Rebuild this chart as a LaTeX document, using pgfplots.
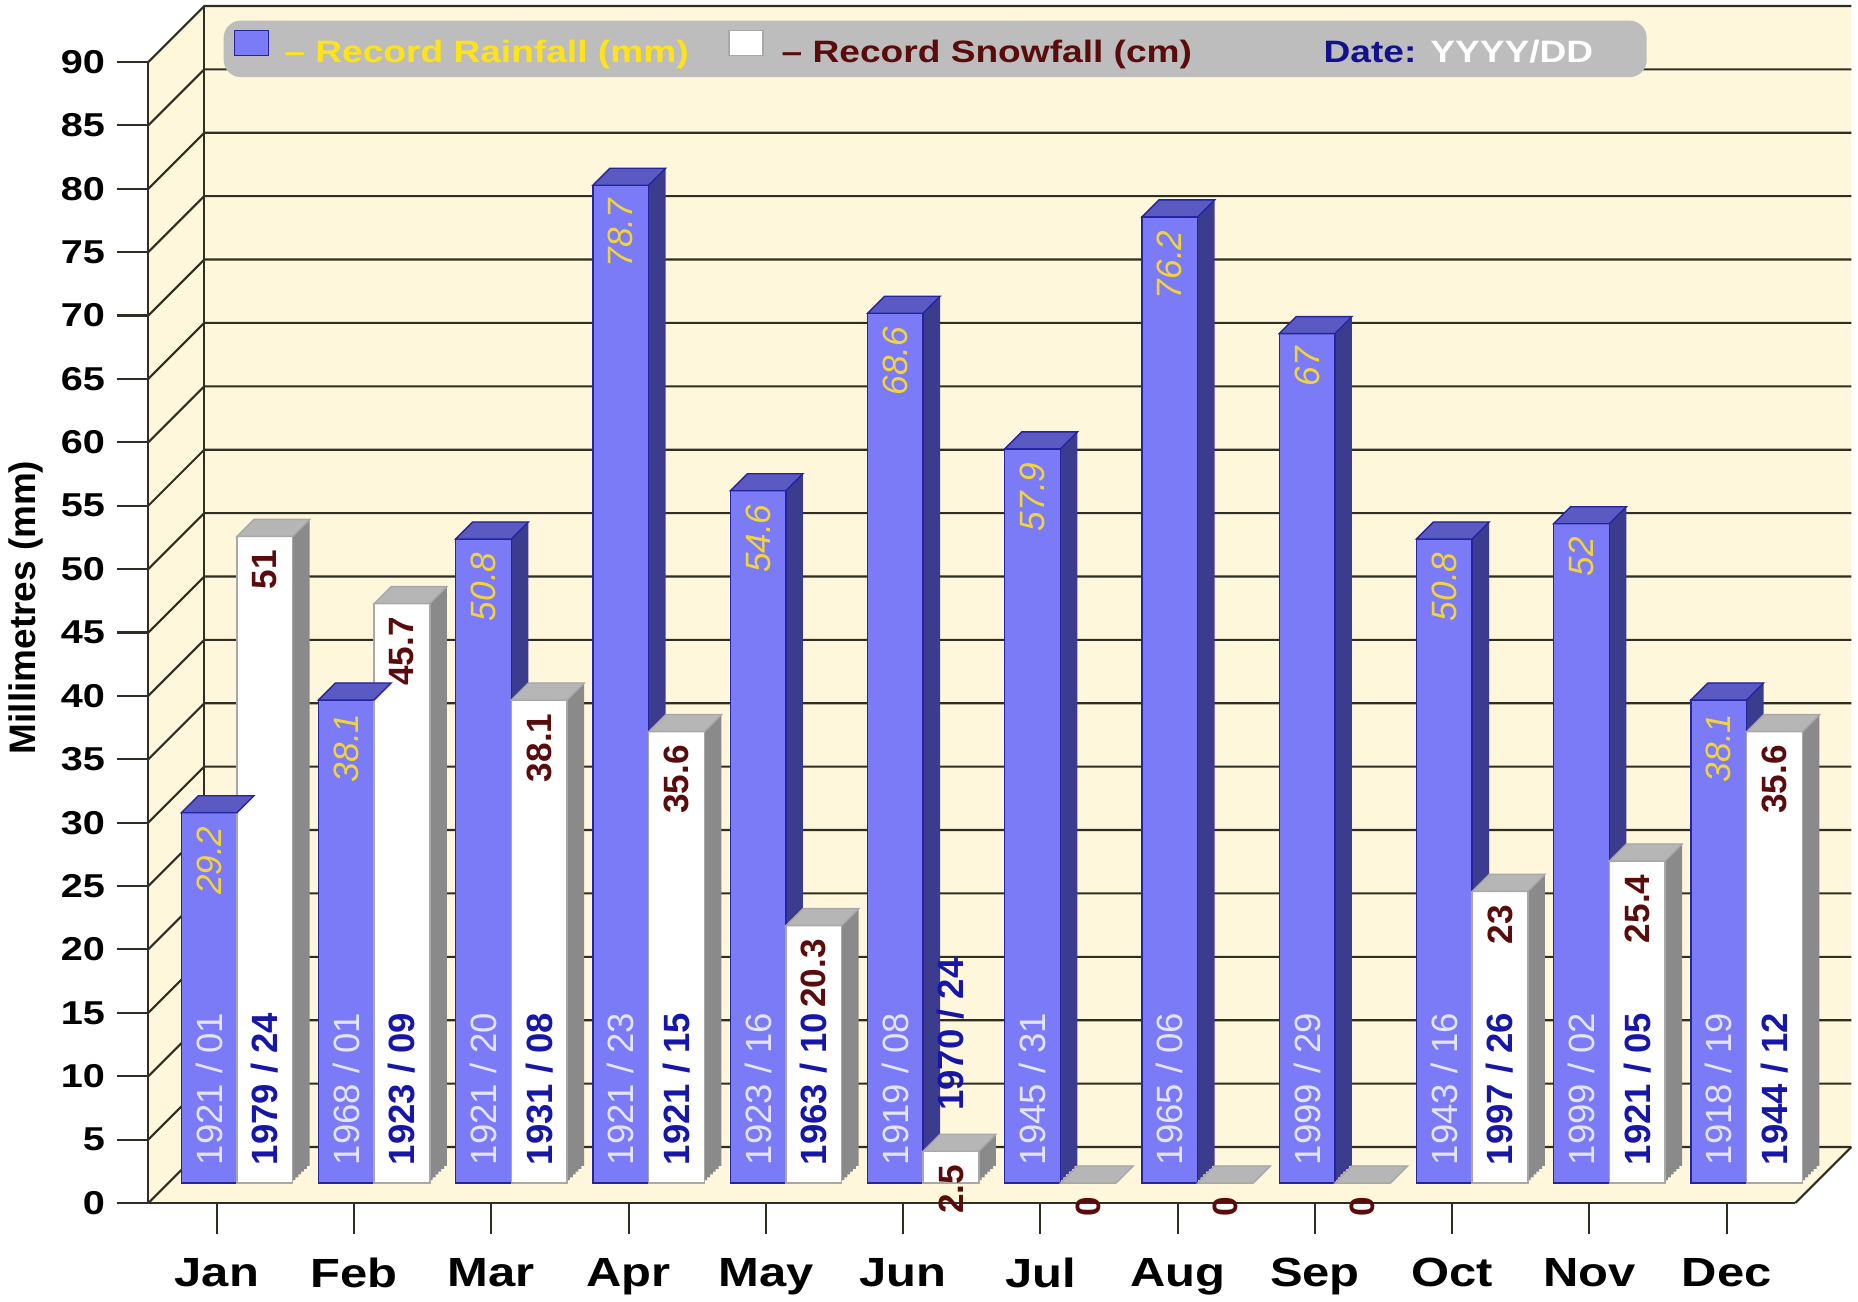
\documentclass[border=0pt]{standalone}
\usepackage{fontspec}
\setmainfont{Liberation Sans}[FakeStretch=1.2]
\newfontfamily\rotfont{Liberation Sans}
\usepackage{pgfplots}
\pgfplotsset{compat=1.18}
\usepackage{pgfplotstable}

\definecolor{wallc}{HTML}{FFF7DB}
\definecolor{gridc}{HTML}{2E2E22}
\definecolor{rfront}{HTML}{7B7BF7}
\definecolor{rside}{HTML}{3C3C8E}
\definecolor{rtop}{HTML}{5A5AC2}
\definecolor{redge}{HTML}{2424A0}
\definecolor{sside}{HTML}{8A8A8A}
\definecolor{stop}{HTML}{B6B6B6}
\definecolor{sedge}{HTML}{A8A8A8}
\definecolor{legbg}{HTML}{BDBDBD}
\definecolor{legyel}{HTML}{FFE31A}
\definecolor{valyel}{HTML}{F2D43A}
\definecolor{snowtxt}{HTML}{5A0C0C}
\definecolor{datec}{HTML}{12128C}
\definecolor{sdatec}{HTML}{1616A8}
\definecolor{rdatec}{HTML}{E4E4FF}

% month index, rainfall (mm), snowfall (cm), dates, height of the snow date label
\pgfplotstableread[col sep=comma]{
x,rain,snow,rd,sd,sdy
0,29.2,51,1921 / 01,1979 / 24,0
1,38.1,45.7,1968 / 01,1923 / 09,0
2,50.8,38.1,1921 / 20,1931 / 08,0
3,78.7,35.6,1921 / 23,1921 / 15,0
4,54.6,20.3,1923 / 16,1963 / 10,0
5,68.6,2.5,1919 / 08,1970 / 24,4.3
6,57.9,0,1945 / 31,-,0
7,76.2,0,1965 / 06,-,0
8,67,0,1999 / 29,-,0
9,50.8,23,1943 / 16,1997 / 26,0
10,52,25.4,1999 / 02,1921 / 05,0
11,38.1,35.6,1918 / 19,1944 / 12,0
}\rec

% top face of a bar (bar width 0.557cm, depth 0.17cm)
\pgfdeclareplotmark{bartop}{%
  \pgfpathmoveto{\pgfqpoint{-0.2785cm}{0cm}}%
  \pgfpathlineto{\pgfqpoint{0.2785cm}{0cm}}%
  \pgfpathlineto{\pgfqpoint{0.4485cm}{0.17cm}}%
  \pgfpathlineto{\pgfqpoint{-0.1085cm}{0.17cm}}%
  \pgfpathclose\pgfusepathqfillstroke}

% shift a plot in canvas units, without pgfmath
\pgfplotsset{
  /pgf/number format/assume math mode=true,
  canvas shift/.style 2 args={execute at begin plot visualization={\pgftransformshift{\pgfqpoint{#1}{#2}}}},
}

\begin{document}
\begin{tikzpicture}
\begin{axis}[
    name=ax,
    set layers,
    scale only axis,
    width=16.47cm, height=11.41cm,
    xmin=-0.5, xmax=11.5, ymin=0, ymax=90,
    clip=false,
    axis lines*=left,
    axis line style={-, draw=gridc, line width=0.6pt},
    xtick={0,...,11},
    xticklabels={Jan,Feb,Mar,Apr,May,Jun,Jul,Aug,Sep,Oct,Nov,Dec},
    ytick={0,5,...,90},
    tick align=outside,
    major tick length=0.31cm,
    tick style={draw=gridc, line width=0.6pt},
    xticklabel style={font=\bfseries\fontsize{11.6}{13}\selectfont, yshift=-0.12cm},
    yticklabel style={font=\bfseries\fontsize{9.4}{11}\selectfont},
    ylabel={Millimetres (mm)},
    every axis y label/.style={at={(axis description cs:0,0.522)}, xshift=-1.22cm,
        rotate=90, anchor=center, font=\rotfont\bfseries\fontsize{10.5}{12}\selectfont},
    legend image code/.code={\draw[sharp corners, #1] (0cm,-0.02cm) rectangle (0.34cm,0.23cm);},
    legend style={at={(0.04535,1.0368)}, anchor=north west, fill=legbg, draw=none,
        rounded corners=0.17cm, inner xsep=0.1cm, inner ysep=0.09cm,
        legend columns=3, font=\bfseries\fontsize{8.8}{10}\selectfont,
        nodes={inner sep=0pt, text height=2.3mm, text depth=0.6mm}},
]
% walls, floor and back-wall grid
\begin{pgfonlayer}{axis background}
\fill[wallc] (axis cs:-0.5,0) -- (axis cs:-0.5,90) -- ([shift={(0.56cm,0.56cm)}]axis cs:-0.5,90)
  -- ([shift={(0.56cm,0.56cm)}]axis cs:11.5,90) -- ([shift={(0.56cm,0.56cm)}]axis cs:11.5,0)
  -- (axis cs:11.5,0) -- cycle;
\draw[gridc, line width=0.6pt] ([shift={(0.56cm,0.56cm)}]axis cs:-0.5,0) -- ([shift={(0.56cm,0.56cm)}]axis cs:-0.5,90);
\draw[gridc, line width=0.6pt] (axis cs:11.5,0) -- ([shift={(0.56cm,0.56cm)}]axis cs:11.5,0);
\pgfplotsinvokeforeach{0,5,...,90}{
  \draw[gridc, line width=0.6pt] (axis cs:-0.5,#1) -- ([shift={(0.56cm,0.56cm)}]axis cs:-0.5,#1) -- ([shift={(0.56cm,0.56cm)}]axis cs:11.5,#1);
}
\end{pgfonlayer}

% rainfall: side faces, front faces, then top faces with the values
\pgfplotsinvokeforeach{0.2283cm,0.2567cm,0.285cm,0.3133cm,0.3417cm,0.37cm}{
  \addplot[forget plot, ybar, bar width=0.557cm, bar shift=-0.2785cm,
    canvas shift={#1}{#1}, fill=rside, draw=none]
    table[x=x, y=rain] {\rec};
}
\addplot[forget plot, ybar, bar width=0.557cm, bar shift=-0.2785cm, canvas shift={0.2cm}{0.2cm},
    fill=rfront, draw=redge, line width=0.4pt]
    table[x=x, y=rain] {\rec};
\addplot[forget plot, only marks, canvas shift={-0.0785cm}{0.2cm},
    mark=bartop, mark options={fill=rtop, draw=redge, line width=0.4pt},
    nodes near coords,
    nodes near coords style={yshift=-0.13cm, rotate=90, anchor=east, inner sep=0pt,
        text=valyel, font=\rotfont\itshape\fontsize{10}{12}\selectfont}]
    table[x=x, y=rain] {\rec};

% snowfall
\pgfplotsinvokeforeach{0.2283cm,0.2567cm,0.285cm,0.3133cm,0.3417cm,0.37cm}{
  \addplot[forget plot, ybar, bar width=0.557cm, bar shift=0.2785cm,
    canvas shift={#1}{#1}, fill=sside, draw=none]
    table[x=x, y=snow] {\rec};
}
\addplot[forget plot, ybar, bar width=0.557cm, bar shift=0.2785cm, canvas shift={0.2cm}{0.2cm},
    fill=white, draw=sedge, line width=0.4pt]
    table[x=x, y=snow] {\rec};
\addplot[forget plot, only marks, canvas shift={0.4785cm}{0.2cm},
    mark=bartop, mark options={fill=stop, draw=sedge, line width=0.4pt},
    nodes near coords,
    nodes near coords style={yshift=-0.13cm, rotate=90, anchor=east, inner sep=0pt,
        text=snowtxt, font=\rotfont\bfseries\fontsize{10}{12}\selectfont}]
    table[x=x, y=snow] {\rec};

% dates
\addplot[forget plot, draw=none, canvas shift={-0.0785cm}{0.2cm},
    nodes near coords, point meta=explicit symbolic,
    nodes near coords style={yshift=0.17cm, rotate=90, anchor=west, inner sep=0pt,
        text=rdatec, font=\rotfont\fontsize{10.4}{12}\selectfont}]
    table[x=x, y expr=0, meta=rd] {\rec};
\addplot[forget plot, draw=none, canvas shift={0.4785cm}{0.2cm},
    skip coords between index={6}{9},
    nodes near coords, point meta=explicit symbolic,
    nodes near coords style={yshift=0.17cm, rotate=90, anchor=west, inner sep=0pt,
        text=sdatec, font=\rotfont\bfseries\fontsize{10.4}{12}\selectfont}]
    table[x=x, y=sdy, meta=sd] {\rec};

\addlegendimage{fill=rfront, draw=redge, line width=0.5pt}
\addlegendentry{\makebox[4.585cm][l]{\hspace{0.15cm}\color{legyel}– Record Rainfall (mm)}}
\addlegendimage{fill=white, draw=sedge, line width=0.5pt}
\addlegendentry{\makebox[5.60cm][l]{\hspace{0.18cm}\color{snowtxt}– Record Snowfall (cm)}}
\addlegendimage{empty legend}
\addlegendentry{\makebox[3.13cm][l]{\color{datec}Date: \color{white}YYYY/DD}}
\end{axis}
\pgfresetboundingbox
\path (ax.south west) ++(-1.483cm,-0.99cm) rectangle ++(18.58cm,13.02cm);
\end{tikzpicture}
\end{document}
